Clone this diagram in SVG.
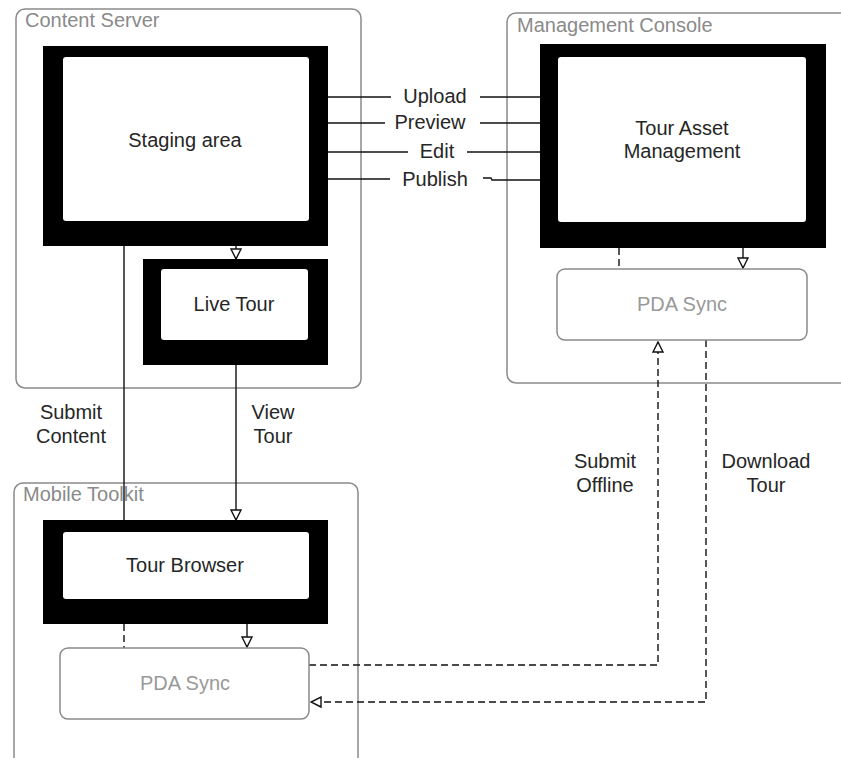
<svg xmlns="http://www.w3.org/2000/svg" width="841" height="758" viewBox="0 0 841 758">
<defs>
<style>
.cont{fill:none;stroke:#8a8a8a;stroke-width:1.5}
.ctitle{font-family:"Liberation Sans",Arial,sans-serif;font-size:20px;fill:#8a8a8a}
.outer{fill:#000}
.inner{fill:#fff}
.lbl{font-family:"Liberation Sans",Arial,sans-serif;font-size:20px;fill:#262626;text-anchor:middle}
.glbl{font-family:"Liberation Sans",Arial,sans-serif;font-size:20px;fill:#999;text-anchor:middle}
.sync{fill:#fff;stroke:#8a8a8a;stroke-width:1.5}
.ln{fill:none;stroke:#111;stroke-width:1.4}
.dash{fill:none;stroke:#111;stroke-width:1.4;stroke-dasharray:7 4}
</style>
<marker id="tri" markerUnits="userSpaceOnUse" markerWidth="12" markerHeight="12" viewBox="0 0 12 12" refX="11" refY="6" orient="auto">
<path d="M1,1 L11,6 L1,11 Z" fill="#fff" stroke="#111" stroke-width="1.4"/>
</marker>
</defs>
<rect width="841" height="758" fill="#fff"/>

<g id="content-server">
<rect class="cont" x="16" y="9" width="345" height="379" rx="9"/>
<text class="ctitle" x="25" y="27">Content Server</text>
</g>
<g id="management-console">
<rect class="cont" x="507" y="13" width="350" height="370" rx="9"/>
<text class="ctitle" x="517" y="32">Management Console</text>
</g>
<g id="mobile-toolkit">
<rect class="cont" x="14" y="483" width="344" height="300" rx="9"/>
<text class="ctitle" x="23" y="501">Mobile Toolkit</text>
</g>

<g id="connectors">
<line class="ln" x1="236" y1="246" x2="236" y2="259" marker-end="url(#tri)"/>
<line class="ln" x1="124" y1="246" x2="124" y2="520"/>
<line class="ln" x1="236" y1="365" x2="236" y2="520" marker-end="url(#tri)"/>
<line class="ln" x1="328" y1="97" x2="391" y2="97"/>
<line class="ln" x1="480" y1="97" x2="540" y2="97"/>
<line class="ln" x1="328" y1="123" x2="385" y2="123"/>
<line class="ln" x1="480" y1="123" x2="540" y2="123"/>
<line class="ln" x1="328" y1="152" x2="408" y2="152"/>
<line class="ln" x1="467" y1="152" x2="540" y2="152"/>
<line class="ln" x1="328" y1="179" x2="390" y2="179"/>
<polyline class="ln" points="483,178 491,178 492,180 540,180"/>
<line class="dash" x1="619" y1="248" x2="619" y2="269"/>
<line class="ln" x1="743" y1="248" x2="743" y2="268" marker-end="url(#tri)"/>
<polyline class="dash" points="309,665 658,665 658,342" marker-end="url(#tri)"/>
<polyline class="dash" points="706,340 706,702 311,702" marker-end="url(#tri)"/>
<line class="dash" x1="124" y1="624" x2="124" y2="648"/>
<line class="ln" x1="247" y1="624" x2="247" y2="647" marker-end="url(#tri)"/>
</g>

<g id="connector-labels">
<text class="lbl" x="435" y="103">Upload</text>
<text class="lbl" x="430" y="129">Preview</text>
<text class="lbl" x="437" y="158">Edit</text>
<text class="lbl" x="435" y="186">Publish</text>
<text class="lbl" x="71" y="419">Submit</text>
<text class="lbl" x="71" y="443">Content</text>
<text class="lbl" x="273" y="419">View</text>
<text class="lbl" x="273" y="443">Tour</text>
<text class="lbl" x="605" y="468">Submit</text>
<text class="lbl" x="605" y="492">Offline</text>
<text class="lbl" x="766" y="468">Download</text>
<text class="lbl" x="766" y="492">Tour</text>
</g>

<g id="staging-area">
<rect class="outer" x="43" y="46" width="285" height="200"/>
<rect class="inner" x="63" y="57" width="246" height="164" rx="3"/>
<text class="lbl" x="185" y="147">Staging area</text>
</g>
<g id="live-tour">
<rect class="outer" x="143" y="259" width="185" height="106"/>
<rect class="inner" x="161" y="269" width="147" height="71" rx="3"/>
<text class="lbl" x="234" y="311">Live Tour</text>
</g>
<g id="tour-asset-management">
<rect class="outer" x="540" y="44" width="286" height="204"/>
<rect class="inner" x="558" y="57" width="248" height="165" rx="3"/>
<text class="lbl" x="682" y="135">Tour Asset</text>
<text class="lbl" x="682" y="158">Management</text>
</g>
<g id="pda-sync-mc">
<rect class="sync" x="557" y="269" width="250" height="71" rx="8"/>
<text class="glbl" x="682" y="311">PDA Sync</text>
</g>
<g id="tour-browser">
<rect class="outer" x="43" y="520" width="285" height="104"/>
<rect class="inner" x="63" y="532" width="246" height="67" rx="3"/>
<text class="lbl" x="185" y="572">Tour Browser</text>
</g>
<g id="pda-sync-mt">
<rect class="sync" x="60" y="648" width="249" height="71" rx="8"/>
<text class="glbl" x="185" y="690">PDA Sync</text>
</g>
</svg>
